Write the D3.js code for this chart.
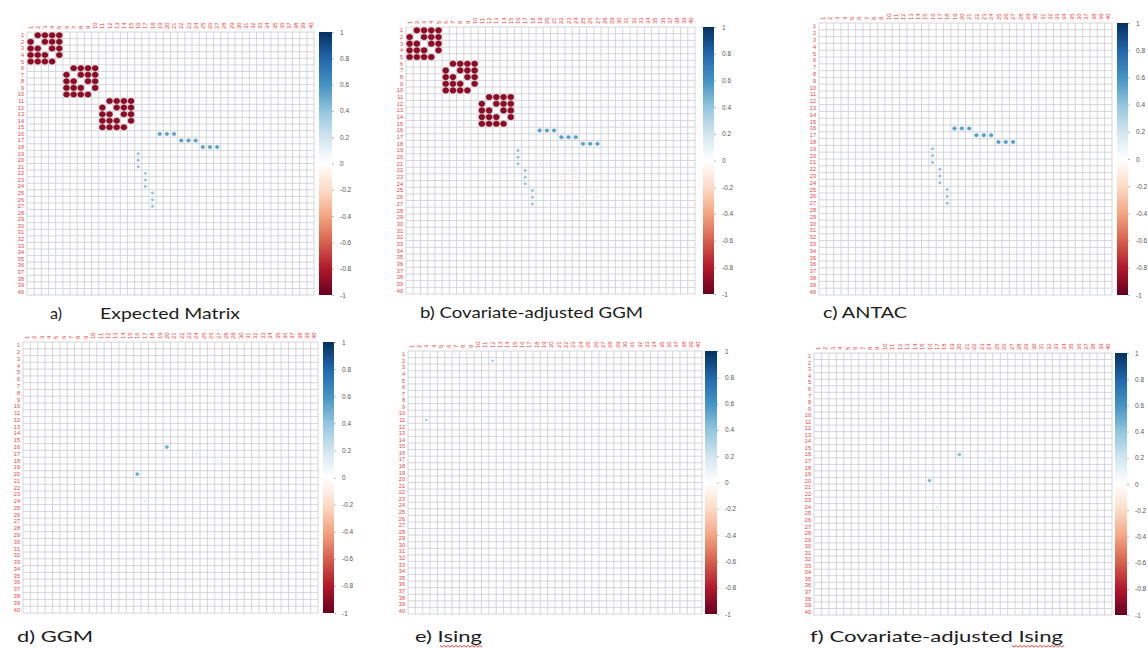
<!DOCTYPE html>
<html>
<head>
<meta charset="utf-8">
<script src="https://cdn.jsdelivr.net/npm/d3@7"></script>
<style>
  body { margin: 0; background: #fff; }
  svg { display: block; }
</style>
</head>
<body>
<div id="chart"></div>
<script>
// Data
// =================================
var varLabels = ["1","2","3","4","5","6","7","8","9","10",
  "11","12","13","14","15","16","17","18","19","20",
  "21","22","23","24","25","26","27","28","29","30",
  "31","32","33","34","35","36","37","38","39","40"];

var cbarTicks = [-1, -0.8, -0.6, -0.4, -0.2, 0, 0.2, 0.4, 0.6, 0.8, 1];
var rdbuStops = [-1, -0.8, -0.6, -0.4, -0.2, 0, 0.2, 0.4, 0.6, 0.8, 1];
var rdbuColors = ["#67001F","#B2182B","#D6604D","#F4A582","#FDDBC7","#FFFFFF",
  "#D1E5F0","#92C5DE","#4393C3","#2166AC","#053061"];

// each entry: [row, [cols], value]
var blockLinks = [
  [1, [2,3,4,5], -0.9], [2, [1,3,4,5], -0.9], [3, [1,2,4,5], -0.9], [4, [1,2,3,5], -0.9], [5, [1,2,3,4], -0.9],
  [6, [7,8,9,10], -0.9], [7, [6,8,9,10], -0.9], [8, [6,7,9,10], -0.9], [9, [6,7,8,10], -0.9], [10, [6,7,8,9], -0.9],
  [11, [12,13,14,15], -0.9], [12, [11,13,14,15], -0.9], [13, [11,12,14,15], -0.9], [14, [11,12,13,15], -0.9], [15, [11,12,13,14], -0.9]
];

var chainLinks = [
  [16, [19,20,21], 0.55], [17, [22,23,24], 0.55], [18, [25,26,27], 0.55],
  [19, [16], 0.4], [20, [16], 0.4], [21, [16], 0.4],
  [22, [17], 0.4], [23, [17], 0.4], [24, [17], 0.4],
  [25, [18], 0.4], [26, [18], 0.4], [27, [18], 0.4]
];

var covAdjNoise = [
  [19, [20,21], -0.15], [20, [19,21], -0.15], [21, [19,20], -0.15],
  [22, [23,24], -0.15], [23, [22,24], -0.15], [24, [22,23], -0.15],
  [25, [26,27], -0.15], [26, [25,27], -0.15], [27, [25,26], -0.15]
];

var ggmLinks = [
  [16, [20], 0.5], [20, [16], 0.5],
  [17, [24], 0.2], [24, [17], 0.2],
  [18, [27], 0.15], [27, [18], 0.15]
];

var isingLinks = [
  [2, [12], 0.35], [11, [3], 0.35],
  [1, [7,9], 0.15], [6, [2], 0.12], [8, [2], 0.12], [40, [4], 0.12]
];

var covIsingLinks = [
  [16, [20], 0.45], [20, [16], 0.45],
  [17, [24], 0.2], [24, [17], 0.2],
  [18, [27], 0.15], [27, [18], 0.15]
];

var panelTitles = [
  ["a)", "Expected Matrix"],
  ["b) Covariate-adjusted GGM"],
  ["c) ANTAC"],
  ["d) GGM"],
  ["e) Ising"],
  ["f) Covariate-adjusted Ising"]
];

// Layout of the six panels (pixels)
// =================================
var panels = [
  { links: [blockLinks, chainLinks], x0: 27, y0: 32, x1: 314, y1: 295, cx0: 319, cx1: 332,
    titleX: [50, 100], titleW: [12, 140], titleY: 319, wave: null },
  { links: [blockLinks, chainLinks, covAdjNoise], x0: 406, y0: 27, x1: 695, y1: 294, cx0: 703, cx1: 714,
    titleX: [420], titleW: [223], titleY: 318, wave: null },
  { links: [chainLinks], x0: 819, y0: 23, x1: 1112, y1: 295, cx0: 1117, cx1: 1128,
    titleX: [823], titleW: [84], titleY: 318, wave: null },
  { links: [ggmLinks], x0: 23, y0: 342, x1: 318, y1: 613, cx0: 323, cx1: 334,
    titleX: [17], titleW: [76], titleY: 642, wave: null },
  { links: [isingLinks], x0: 408, y0: 351, x1: 702, y1: 614, cx0: 705, cx1: 717,
    titleX: [415], titleW: [67], titleY: 642, wave: [440, 483, 646] },
  { links: [covIsingLinks], x0: 814, y0: 353, x1: 1112, y1: 615, cx0: 1115, cx1: 1127,
    titleX: [810], titleW: [253], titleY: 642, wave: [1012, 1065, 646] }
];

var svgWidth = 1148;
var svgHeight = 648;

var svg = d3.select("#chart")
  .append("svg")
  .attr("width", svgWidth)
  .attr("height", svgHeight);

svg.append("rect")
  .attr("width", svgWidth)
  .attr("height", svgHeight)
  .attr("fill", "#fff");

var color = d3.scaleLinear()
  .domain(rdbuStops)
  .range(rdbuColors);

// circle radius as a share of the cell
var radius = d3.scaleLinear()
  .domain([0, 1])
  .range([0, 0.47]);

// shared gradient for the colour bars (bottom = -1, top = 1)
var grad = svg.append("defs")
  .append("linearGradient")
  .attr("id", "rdbu")
  .attr("x1", 0).attr("y1", 1)
  .attr("x2", 0).attr("y2", 0);

grad.selectAll("stop")
  .data(rdbuStops)
  .enter()
  .append("stop")
  .attr("offset", d => (d + 1) / 2)
  .attr("stop-color", d => color(d));

panels.forEach(function(p, i) {
  var g = svg.append("g");

  var x = d3.scaleBand().domain(varLabels).range([p.x0, p.x1]);
  var y = d3.scaleBand().domain(varLabels).range([p.y0, p.y1]);
  var bw = x.bandwidth();
  var bh = y.bandwidth();

  // grid
  var edges = varLabels.map(d => x(d)).concat([p.x1]);
  var edgesY = varLabels.map(d => y(d)).concat([p.y1]);

  g.selectAll(".vline")
    .data(edges)
    .enter()
    .append("line")
    .attr("x1", d => d).attr("x2", d => d)
    .attr("y1", p.y0).attr("y2", p.y1)
    .attr("stroke", "#c9ccd0")
    .attr("stroke-width", 0.8);

  g.selectAll(".hline")
    .data(edgesY)
    .enter()
    .append("line")
    .attr("y1", d => d).attr("y2", d => d)
    .attr("x1", p.x0).attr("x2", p.x1)
    .attr("stroke", "#c9ccd0")
    .attr("stroke-width", 0.8);

  // circles, one per (row, col)
  var cells = [];
  p.links.forEach(function(set) {
    set.forEach(function(e) {
      e[1].forEach(function(c) {
        cells.push({ row: String(e[0]), col: String(c), value: e[2] });
      });
    });
  });

  // faint circles get a slightly stronger outline so they stay visible
  g.selectAll(".dot")
    .data(cells)
    .enter()
    .append("ellipse")
    .attr("cx", d => x(d.col) + bw / 2)
    .attr("cy", d => y(d.row) + bh / 2)
    .attr("rx", d => radius(Math.abs(d.value)) * bw)
    .attr("ry", d => radius(Math.abs(d.value)) * bh)
    .attr("fill", d => color(d.value))
    .attr("stroke", d => Math.abs(d.value) < 0.25 ? color(Math.sign(d.value) * 0.3) : color(d.value))
    .attr("stroke-width", 0.5);

  // row labels
  g.selectAll(".rlab")
    .data(varLabels)
    .enter()
    .append("text")
    .attr("x", p.x0 - 3)
    .attr("y", d => y(d) + bh / 2)
    .attr("dy", "0.35em")
    .attr("text-anchor", "end")
    .attr("font-family", "Liberation Sans, Arial, sans-serif")
    .attr("font-size", 5.6)
    .attr("fill", "#ee4040")
    .text(d => d);

  // column labels (vertical)
  g.selectAll(".clab")
    .data(varLabels)
    .enter()
    .append("text")
    .attr("transform", d => `translate(${x(d) + bw / 2}, ${p.y0 - 3}) rotate(-90)`)
    .attr("dy", "0.35em")
    .attr("text-anchor", "start")
    .attr("font-family", "Liberation Sans, Arial, sans-serif")
    .attr("font-size", 6)
    .attr("fill", "#ee4040")
    .text(d => d);

  // colour bar
  g.append("rect")
    .attr("x", p.cx0)
    .attr("y", p.y0)
    .attr("width", p.cx1 - p.cx0)
    .attr("height", p.y1 - p.y0)
    .attr("fill", "url(#rdbu)");

  var cScale = d3.scaleLinear().domain([-1, 1]).range([p.y1, p.y0]);
  var cAxis = d3.axisRight(cScale)
    .tickValues(cbarTicks)
    .tickFormat(d => String(d))
    .tickSize(2)
    .tickPadding(6);

  var ag = g.append("g")
    .attr("transform", `translate(${p.cx1}, 0)`)
    .call(cAxis);
  ag.select(".domain").remove();
  ag.selectAll("line").attr("stroke", "#888").attr("stroke-width", 0.6);
  ag.selectAll("text")
    .attr("font-family", "Liberation Sans, Arial, sans-serif")
    .attr("font-size", 6.5)
    .attr("fill", "#555");

  // title
  panelTitles[i].forEach(function(t, k) {
    g.append("text")
      .attr("x", p.titleX[k])
      .attr("y", p.titleY)
      .attr("font-family", "Lato, 'Open Sans', sans-serif")
      .attr("font-size", 15)
      .attr("fill", "#1c1c1c")
      .attr("textLength", p.titleW[k])
      .attr("lengthAdjust", "spacingAndGlyphs")
      .text(t);
  });

  // spell-check wave under "Ising"
  if (p.wave) {
    var pts = [];
    for (var wx = p.wave[0], k = 0; wx <= p.wave[1]; wx += 2, k++) {
      pts.push([wx, p.wave[2] + (k % 2 ? 1.2 : -0.6)]);
    }
    g.append("path")
      .attr("d", d3.line()(pts))
      .attr("fill", "none")
      .attr("stroke", "#e03030")
      .attr("stroke-width", 0.9);
  }
});
</script>
</body>
</html>
